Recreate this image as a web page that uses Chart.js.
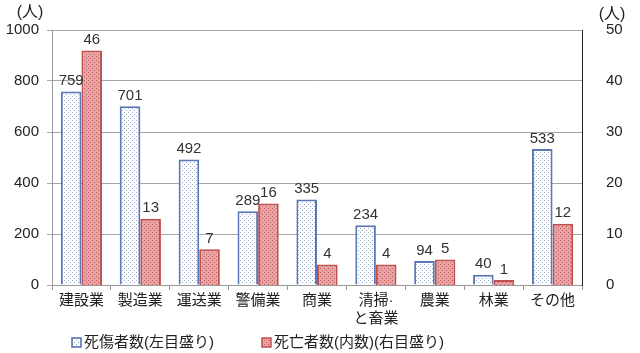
<!DOCTYPE html>
<html>
<head>
<meta charset="utf-8">
<script src="https://cdn.jsdelivr.net/npm/chart.js@4"></script>
<style>
  html, body { margin: 0; padding: 0; background: #fff; }
  #wrap { width: 640px; height: 353px; }
</style>
</head>
<body>
<div id="wrap"><canvas id="c"></canvas></div>
<script>
// データ
const categories = ['建設業', '製造業', '運送業', '警備業', '商業', ['清掃·', 'と畜業'], '農業', '林業', 'その他'];
const casualties = [759, 701, 492, 289, 335, 234, 94, 40, 533];   // 死傷者数（左目盛り）
const deaths = [46, 13, 7, 16, 4, 4, 5, 1, 12];                   // 死亡者数（内数）（右目盛り）
const leftTicks = [0, 200, 400, 600, 800, 1000];
const rightTicks = [0, 10, 20, 30, 40, 50];
const seriesNames = ['死傷者数(左目盛り)', '死亡者数(内数)(右目盛り)'];

const FONT = '"Liberation Sans", "Noto Sans CJK JP", sans-serif';

// ドット柄
function dots(bg, dot) {
    const p = document.createElement('canvas');
    p.width = 4; p.height = 4;
    const g = p.getContext('2d');
    g.fillStyle = bg;
    g.fillRect(0, 0, 4, 4);
    g.fillStyle = dot;
    g.fillRect(0, 0, 1, 1);
    g.fillRect(2, 2, 1, 1);
    return g.createPattern(p, 'repeat');
}
const bluePat = dots('#ffffff', '#9aa8cc');
const redPat = dots('#e8a4a4', '#c45a5a');

// 値ラベル・単位・凡例
const extras = {
    id: 'extras',
    afterDatasetsDraw(chart) {
        const ctx = chart.ctx;
        ctx.save();
        ctx.font = '15px ' + FONT;
        ctx.fillStyle = '#333';
        ctx.textAlign = 'center';
        ctx.textBaseline = 'bottom';
        chart.data.datasets.forEach((ds, i) => {
            chart.getDatasetMeta(i).data.forEach((bar, j) => {
                ctx.fillText(ds.data[j], bar.x, bar.y - 3);
            });
        });
        // (人)
        ctx.font = '16px ' + FONT;
        ctx.fillStyle = '#222';
        ctx.textBaseline = 'middle';
        ctx.fillText('(人)', 30, 13);
        ctx.fillText('(人)', 612, 15);
        // 凡例
        const items = [
            { x: 72, fill: bluePat, stroke: '#4f6eaf', text: seriesNames[0] },
            { x: 262, fill: redPat, stroke: '#c0504d', text: seriesNames[1] }
        ];
        ctx.textAlign = 'left';
        ctx.font = '15px ' + FONT;
        items.forEach(it => {
            ctx.fillStyle = it.fill;
            ctx.fillRect(it.x, 338, 9, 9);
            ctx.strokeStyle = it.stroke;
            ctx.lineWidth = 1.5;
            ctx.strokeRect(it.x, 338, 9, 9);
            ctx.fillStyle = '#222';
            ctx.fillText(it.text, it.x + 12, 343);
        });
        ctx.restore();
    }
};

new Chart(document.getElementById('c'), {
    type: 'bar',
    data: {
        labels: categories,
        datasets: [
            {
                label: seriesNames[0],
                data: casualties,
                yAxisID: 'y',
                backgroundColor: bluePat,
                borderColor: '#5a78b8',
                borderWidth: 2
            },
            {
                label: seriesNames[1],
                data: deaths,
                yAxisID: 'y1',
                backgroundColor: redPat,
                borderColor: '#c0504d',
                borderWidth: 2
            }
        ]
    },
    options: {
        responsive: true,
        maintainAspectRatio: false,
        animation: false,
        layout: { padding: { top: 30, left: 0, right: 0, bottom: 0 } },
        datasets: { bar: { categoryPercentage: 0.7, barPercentage: 1.0 } },
        plugins: {
            legend: { display: false },
            tooltip: { enabled: false }
        },
        scales: {
            x: {
                grid: { offset: true, drawOnChartArea: false, tickLength: 5, color: '#999' },
                border: { color: '#999' },
                ticks: { color: '#222', font: { size: 15, family: FONT }, maxRotation: 0, autoSkip: false, padding: 2 },
                afterFit(s) { s.height = 68; }
            },
            y: {
                position: 'left',
                min: 0, max: 1000,
                afterBuildTicks(s) { s.ticks = leftTicks.map(v => ({ value: v })); },
                grid: { color: '#a6a6a6', tickLength: 5 },
                border: { color: '#999' },
                ticks: { color: '#222', font: { size: 15, family: FONT }, padding: 8, callback: v => String(v) },
                afterFit(s) { s.width = 52; }
            },
            y1: {
                position: 'right',
                min: 0, max: 50,
                afterBuildTicks(s) { s.ticks = rightTicks.map(v => ({ value: v })); },
                grid: { display: false },
                border: { color: '#222' },
                ticks: { color: '#222', font: { size: 15, family: FONT }, padding: 16, callback: v => String(v) },
                afterFit(s) { s.width = 58; }
            }
        }
    },
    plugins: [extras]
});
</script>
</body>
</html>
